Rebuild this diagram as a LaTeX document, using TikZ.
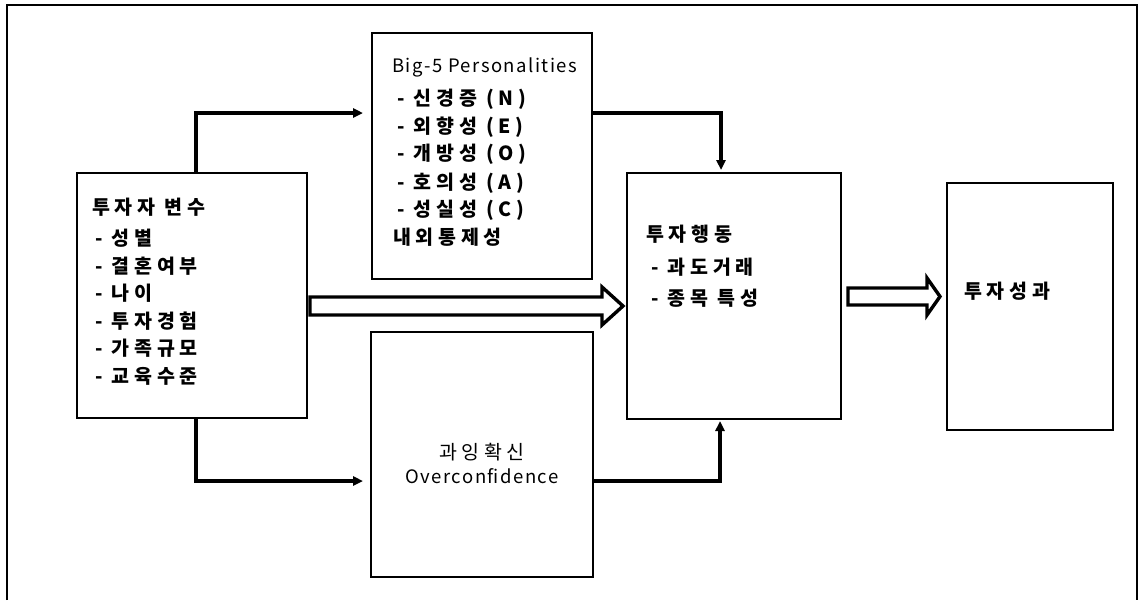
\documentclass[tikz,border=0pt]{standalone}
\usepackage{fontspec}
\setmainfont{Noto Sans CJK KR}
\newfontfamily\kofont{Noto Sans CJK KR}[LetterSpace=24]
\newfontfamily\lafont{Noto Sans CJK KR}[LetterSpace=8]
\usetikzlibrary{arrows.meta,calc}
\begin{document}
\begin{tikzpicture}[x=1pt,y=-1pt,
  box/.style={draw, line width=1.3pt, inner sep=0pt, outer sep=0pt, anchor=north west},
  txt/.style={anchor=west, inner sep=0pt, font=\lafont\fontsize{18.5}{22}\selectfont},
  btxt/.style={anchor=west, inner sep=0pt, font=\kofont\bfseries\fontsize{19.5}{22}\selectfont},
  ctxt/.style={anchor=center, inner sep=0pt, font=\kofont\fontsize{19.5}{22}\selectfont},
  cltxt/.style={anchor=center, inner sep=0pt, font=\lafont\fontsize{18.5}{22}\selectfont},
  conn/.style={line width=3.2pt, -{Triangle[length=10pt,width=9pt]}},
  hollow/.style={draw, line width=3.4pt, miter limit=10, fill=white},
  frame/.style={line width=2pt}]
\useasboundingbox (0,0) rectangle (1139,600);
% outer frame
\draw[frame] (7,600) -- (7,5) -- (1137,5) -- (1137,600);
% boxes
\node[box, minimum width=230pt, minimum height=245pt] (lb) at (77,173) {};
\node[box, minimum width=220pt, minimum height=246pt] (b5) at (372,33) {};
\node[box, minimum width=222pt, minimum height=245pt] (oc) at (371,332) {};
\node[box, minimum width=214pt, minimum height=246pt] (beh) at (627,173) {};
\node[box, minimum width=166pt, minimum height=247pt] (perf) at (947,183) {};
% left box text
\node[btxt] (lt0) at (92,207) {투자자 변수};
\node[btxt] (lt1) at (95,238) {- 성별};
\node[btxt] (lt2) at (95,266) {- 결혼여부};
\node[btxt] (lt3) at (95,293) {- 나이};
\node[btxt] (lt4) at (95,321) {- 투자경험};
\node[btxt] (lt5) at (95,348) {- 가족규모};
\node[btxt] (lt6) at (95,376) {- 교육수준};
% big-5 text
\node[txt] (bt0) at (392,67) {Big-5 Personalities};
\node[btxt] (bt1) at (397,99) {- 신경증 (N)};
\node[btxt] (bt2) at (397,127) {- 외향성 (E)};
\node[btxt] (bt3) at (397,154) {- 개방성 (O)};
\node[btxt] (bt4) at (397,183) {- 호의성 (A)};
\node[btxt] (bt5) at (397,210) {- 성실성 (C)};
\node[btxt] (bt6) at (393,237) {내외통제성};
% overconfidence text
\node[ctxt] (ot0) at (482,452) {과잉확신};
\node[cltxt] (ot1) at (482,476) {Overconfidence};
% behaviour text
\node[btxt] (ht0) at (646,234) {투자행동};
\node[btxt] (ht1) at (651,267) {- 과도거래};
\node[btxt] (ht2) at (651,298) {- 종목 특성};
% performance text
\node[btxt] (pt0) at (964,291) {투자성과};
% connectors
\coordinate (ytop) at (0,113);
\coordinate (ybot) at (0,481);
\draw[conn] ([xshift=4pt]lb.north) |- ([xshift=-9pt]b5.west |- ytop);
\draw[conn] (b5.east |- ytop) -| ([xshift=-13pt,yshift=3pt]beh.north);
\draw[conn] ([xshift=4pt]lb.south) |- ([xshift=-8pt]oc.west |- ybot);
\draw[conn] (oc.east |- ybot) -| ([xshift=-14pt,yshift=-2pt]beh.south);
% hollow arrows
\draw[hollow] (310,297) -- (602,297) -- (602,287) -- (623,306) -- (602,325) -- (602,315) -- (310,315) -- cycle;
\draw[hollow] (848,288) -- (927,288) -- (927,278) -- (940,296.5) -- (927,315) -- (927,305) -- (848,305) -- cycle;
\end{tikzpicture}
\end{document}
